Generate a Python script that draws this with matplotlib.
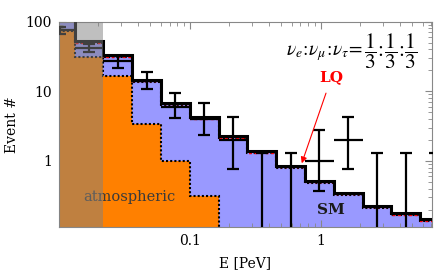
import numpy as np
import matplotlib
matplotlib.use("Agg")
import matplotlib.pyplot as plt

plt.rcParams['font.family'] = ['DejaVu Serif']
plt.rcParams['mathtext.fontset'] = 'stix'

# bin edges in PeV
edges = np.array([0.00794, 0.01318, 0.02188, 0.03631, 0.06026, 0.1, 0.1660,
                  0.2754, 0.4571, 0.7586, 1.2589, 2.0893, 3.4674, 5.7544, 9.5499])
# atmospheric background (orange)
atm = np.array([72, 30.5, 16.5, 3.36, 1.0, 0.31, 0.05, 0.03, 0.02, 0.01, 0.01, 0.01, 0.01, 0.01])
# SM expectation (blue)
sm = np.array([110, 49, 30.8, 13.7, 6.45, 4.0, 2.15, 1.31, 0.80, 0.49, 0.33, 0.213, 0.168, 0.138])
# LQ expectation (red dashed)
lq = np.array([111, 49.5, 31.0, 13.8, 6.5, 4.03, 2.17, 1.32, 0.81, 0.50, 0.335, 0.216, 0.170, 0.140])
# best-fit total (thick black)
total = np.array([118, 52.5, 32.6, 14.5, 6.85, 4.24, 2.28, 1.39, 0.85, 0.52, 0.35, 0.226, 0.178, 0.146])
# observed events and error intervals
data = np.array([75, 42, 27, 14, 6, 4, 2, 0, 0, 1, 2, 0, 0, 0])
err_lo = np.array([66, 36, 21.3, 10.7, 4.1, 2.36, 0.76, 0, 0, 0.375, 0.76, 0, 0, 0])
err_hi = np.array([84, 48, 32, 18.7, 9.5, 6.7, 4.3, 1.3, 1.3, 2.78, 4.3, 1.3, 1.3, 1.3])

fig = plt.figure(figsize=(4.36, 2.73), dpi=100)
ax = fig.add_axes([0.1353, 0.1685, 0.9908 - 0.1353, 0.9212 - 0.1685])
ax.set_xscale('log')
ax.set_yscale('log')

base = 1e-3
ax.stairs(sm, edges, fill=True, baseline=base, color='#9999ff', zorder=1)
ax.stairs(atm, edges, fill=True, baseline=base, color='#ff8000', zorder=2)
ax.stairs(atm, edges, baseline=None, color='k', lw=1.5, ls=(0, (1, 1)), zorder=3)
ax.stairs(sm, edges, baseline=None, color='k', lw=1.5, ls=(0, (1, 1)), zorder=3)
ax.stairs(lq, edges, baseline=None, color='red', lw=1.0, ls=(1, (2, 2)), zorder=3.5)
ax.stairs(total, edges, baseline=None, color='k', lw=2.2, zorder=4)

centers = np.sqrt(edges[:-1] * edges[1:])
lo_plot = np.where(err_lo > 0, err_lo, base)
ax.vlines(centers, lo_plot, err_hi, color='k', lw=1.6, zorder=6)
ax.plot(centers, err_hi, ls='none', marker='_', ms=9, mew=1.6, color='k', zorder=6)
m = err_lo > 0
ax.plot(centers[m], err_lo[m], ls='none', marker='_', ms=9, mew=1.6, color='k', zorder=6)
md = data > 0
ax.hlines(data[md], edges[:-1][md], edges[1:][md], color='k', lw=1.6, zorder=6)

ax.text(0.19, 0.147, 'atmospheric', transform=ax.transAxes, ha='center', va='center',
        fontsize=10.5, color='#3a3a3a', zorder=5)
ax.text(0.73, 0.083, 'SM', transform=ax.transAxes, ha='center', va='center',
        fontsize=11, fontweight='bold', color='#1a1a1a', zorder=7)
ax.annotate('LQ', xy=(0.716, 0.927), xycoords='data', xytext=(0.731, 0.731),
            textcoords='axes fraction', ha='center', va='center', fontsize=11,
            fontweight='bold', color='red', zorder=8,
            arrowprops=dict(arrowstyle='-|>', color='red', lw=0.8, mutation_scale=9,
                            shrinkA=5, shrinkB=0))
# flavour ratio label: left part and fractions
ax.text((363 - 59) / 373, (227 - 55) / 205.5, r'$\nu_e\!:\!\nu_\mu\!:\!\nu_\tau\!=$',
        transform=ax.transAxes, ha='right', va='baseline', fontsize=14, zorder=8)
ax.text((364 - 59) / 373, (227 - 51) / 205.5,
        r'$\dfrac{1}{3}\!:\!\dfrac{1}{3}\!:\!\dfrac{1}{3}$',
        transform=ax.transAxes, ha='left', va='center', fontsize=15.5, zorder=8)

ax.axvspan(edges[0], edges[2], color='#808080', alpha=0.5, lw=0, zorder=9)

ax.set_xlim(0.01, 7.08)
ax.set_ylim(0.113, 100)
ax.set_xticks([0.1, 1])
ax.set_xticklabels(['0.1', '1'])
ax.set_yticks([1, 10, 100])
ax.set_yticklabels(['1', '10', '100'])
ax.tick_params(which='both', direction='in', top=True, right=True, color='#888888',
               labelsize=10, pad=5)
ax.tick_params(which='major', length=5, width=0.8)
ax.tick_params(which='minor', length=3, width=0.6)
for s in ax.spines.values():
    s.set_color('#888888')
    s.set_linewidth(0.8)
ax.set_xlabel('E [PeV]', fontsize=10, labelpad=6)
ax.set_ylabel('Event #', fontsize=10, labelpad=5)

fig.savefig('out.png', dpi=100)
